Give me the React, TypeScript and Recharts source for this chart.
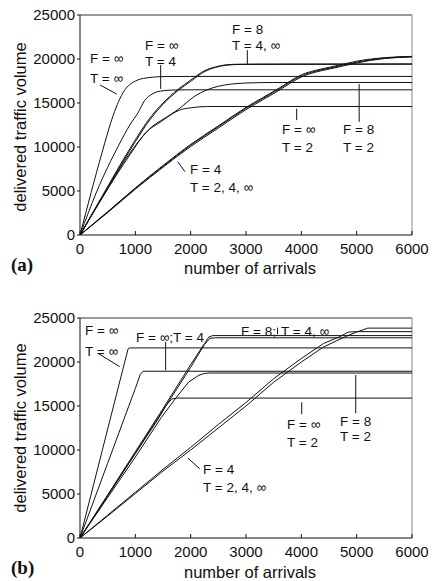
import React from 'react';
import { LineChart, Line, XAxis, YAxis, ReferenceLine } from 'recharts';

type Pt = [number, number];

// shared axes
const xTicks = [0, 1000, 2000, 3000, 4000, 5000, 6000];
const yTicks = [0, 5000, 10000, 15000, 20000, 25000];

// ---- panel (a) ----
const aInfInf: Pt[] = [[0, 0], [200, 4800], [400, 9400], [600, 13600], [700, 15200], [800, 16400], [900, 17100], [1000, 17500], [1200, 17850], [1500, 18000], [2000, 18020], [6000, 18020]];
const aInf4: Pt[] = [[0, 0], [300, 4900], [700, 10200], [900, 12500], [1050, 13900], [1170, 15300], [1300, 16000], [1450, 16350], [1700, 16480], [2000, 16500], [6000, 16500]];
const a8_4: Pt[] = [[0, 0], [400, 4400], [900, 9800], [1300, 13600], [1500, 15000], [1780, 16600], [2000, 17600], [2260, 18700], [2450, 19100], [2620, 19320], [2800, 19400], [3200, 19430], [6000, 19450]];
const a8_inf: Pt[] = [[0, 0], [400, 4300], [900, 9600], [1300, 13400], [1500, 14850], [1780, 16450], [2000, 17450], [2260, 18600], [2450, 19050], [2650, 19300], [2900, 19380], [6000, 19400]];
const a8_2: Pt[] = [[0, 0], [400, 4250], [900, 9300], [1300, 12300], [1540, 13300], [1780, 14300], [2080, 15800], [2500, 16900], [3000, 17270], [3500, 17330], [6000, 17330]];
const aInf2: Pt[] = [[0, 0], [400, 4200], [900, 9100], [1200, 11700], [1470, 12900], [1650, 13700], [1800, 14200], [2000, 14450], [2300, 14600], [6000, 14600]];
const a4_2: Pt[] = [[0, 0], [500, 2600], [1000, 5300], [1500, 7800], [2000, 10200], [2500, 12300], [3000, 14400], [3300, 15500], [3600, 16600], [3800, 17400], [4000, 18100], [4250, 18600], [4500, 18950], [4750, 19300], [5000, 19650], [5500, 20100], [6000, 20270]];
const a4_4: Pt[] = [[0, 0], [500, 2550], [1000, 5200], [1500, 7700], [2000, 10050], [2500, 12150], [3000, 14250], [3300, 15350], [3600, 16450], [3800, 17250], [4000, 17950], [4250, 18500], [4500, 18850], [4750, 19200], [5000, 19550], [5500, 20050], [6000, 20230]];
const a4_inf: Pt[] = [[0, 0], [500, 2650], [1000, 5350], [1500, 7900], [2000, 10300], [2500, 12400], [3000, 14500], [3300, 15600], [3600, 16700], [3800, 17500], [4000, 18200], [4250, 18700], [4500, 19050], [4750, 19400], [5000, 19750], [5500, 20150], [6000, 20300]];

const aPointers: [Pt, Pt][] = [
  [[361, 17050], [663, 16020]],
  [[1458, 19300], [1458, 16600]],
  [[3024, 21000], [3024, 19450]],
  [[3916, 14350], [3916, 13050]],
  [[5045, 17150], [5045, 12850]],
  [[1766, 8330], [1898, 7190]],
];

// ---- panel (b) ----
const bInfInf: Pt[] = [[0, 0], [400, 9900], [800, 19800], [870, 21500], [900, 21600], [6000, 21600]];
const bInf4: Pt[] = [[0, 0], [500, 8500], [1000, 17000], [1090, 18600], [1140, 18950], [6000, 18950]];
const b8_4: Pt[] = [[0, 0], [500, 4900], [1000, 9800], [1500, 14700], [2000, 19700], [2250, 22100], [2330, 22850], [2400, 23000], [6000, 23000]];
const b8_inf: Pt[] = [[0, 0], [500, 4800], [1000, 9650], [1500, 14500], [2000, 19400], [2250, 22000], [2350, 22700], [2450, 22750], [6000, 22750]];
const b8_2: Pt[] = [[0, 0], [500, 4600], [1000, 9200], [1470, 13700], [1720, 15800], [1960, 17700], [2150, 18500], [2250, 18700], [2350, 18750], [6000, 18750]];
const bInf2: Pt[] = [[0, 0], [500, 4800], [1000, 9600], [1400, 13400], [1560, 15100], [1660, 15800], [1750, 15900], [6000, 15900]];
const b4_a: Pt[] = [[0, 0], [500, 2600], [1000, 5200], [1500, 7800], [2000, 10300], [2500, 12900], [3000, 15400], [3500, 18100], [4000, 20400], [4400, 22100], [4700, 22900], [4850, 23400], [5000, 23450], [6000, 23450]];
const b4_b: Pt[] = [[0, 0], [500, 2500], [1000, 5050], [1500, 7600], [2000, 10000], [2500, 12500], [3000, 15000], [3500, 17700], [4000, 20000], [4400, 21700], [4800, 22900], [5000, 23400], [5200, 23850], [6000, 23850]];

const bPointers: [Pt, Pt][] = [
  [[325, 20990], [717, 19470]],
  [[1548, 22300], [1548, 19050]],
  [[3570, 23900], [3570, 23150]],
  [[4007, 15420], [4007, 14060]],
  [[4983, 18520], [4983, 14170]],
  [[1952, 9060], [2163, 7875]],
];

// annotation texts: [left x, centre y, text]
const aNotes: [number, number, string][] = [
  [90, 58, 'F = ∞'], [90, 78, 'T = ∞'],
  [145, 44.5, 'F = ∞'], [145, 61, 'T = 4'],
  [232, 28.5, 'F = 8'], [232, 45, 'T = 4, ∞'],
  [282, 128.5, 'F = ∞'], [282, 147, 'T = 2'],
  [343, 128.5, 'F = 8'], [343, 147, 'T = 2'],
  [190, 168.5, 'F = 4'], [190, 187, 'T = 2, 4, ∞'],
];
const bNotes: [number, number, string][] = [
  [85, 330, 'F = ∞'], [85, 351, 'T = ∞'],
  [136, 337, 'F = ∞;T = 4'],
  [241, 331, 'F = 8;'], [281, 331, 'T = 4, ∞'],
  [287, 423.5, 'F = ∞'], [287, 441.5, 'T = 2'],
  [340, 420.5, 'F = 8'], [340, 436, 'T = 2'],
  [203, 469, 'F = 4'], [203, 487, 'T = 2, 4, ∞'],
];

const SANS = '"Liberation Sans", Arial, Helvetica, sans-serif';
const INK = '#111';

const toData = (pts: Pt[]) => pts.map(([x, y]) => ({ x, y }));

function Panel({ series, pointers, height, curve }: { series: Pt[][]; pointers: [Pt, Pt][]; height: number; curve: 'monotone' | 'linear' }) {
  return (
    <LineChart width={436} height={height} margin={{ top: 15, right: 24, bottom: 0, left: 0 }}>
      <XAxis
        type="number"
        dataKey="x"
        domain={[0, 6000]}
        ticks={xTicks}
        interval={0}
        height={height - 235}
        tickSize={-4}
        tickMargin={12}
        axisLine={{ stroke: INK }}
        tickLine={{ stroke: INK }}
        tick={{ fill: INK, fontSize: 15, fontFamily: SANS }}
        allowDataOverflow
      />
      <YAxis
        type="number"
        domain={[0, 25000]}
        ticks={yTicks}
        interval={0}
        width={80}
        tickSize={3}
        tickMargin={2}
        axisLine={{ stroke: INK }}
        tickLine={{ stroke: INK }}
        tick={{ fill: INK, fontSize: 15, fontFamily: SANS }}
        allowDataOverflow
      />
      <ReferenceLine y={25000} stroke="#333" />
      <ReferenceLine x={6000} stroke="#888" />
      {series.map((s, i) => (
        <Line key={i} data={toData(s)} dataKey="y" type={curve} stroke={INK} strokeWidth={1} dot={false} isAnimationActive={false} />
      ))}
      {pointers.map((p, i) => (
        <ReferenceLine key={'p' + i} segment={[{ x: p[0][0], y: p[0][1] }, { x: p[1][0], y: p[1][1] }]} stroke={INK} />
      ))}
    </LineChart>
  );
}

export default function App() {
  const notes = [...aNotes, ...bNotes];
  return (
    <div style={{ position: 'absolute', left: 0, top: 0, width: 436, height: 581, background: '#fff', overflow: 'hidden' }}>
      <div style={{ position: 'absolute', left: 0, top: 0 }}>
        <Panel height={290} curve="monotone" series={[aInfInf, aInf4, a8_4, a8_inf, a8_2, aInf2, a4_2, a4_4, a4_inf]} pointers={aPointers} />
      </div>
      <div style={{ position: 'absolute', left: 0, top: 303 }}>
        <Panel height={278} curve="linear" series={[bInfInf, bInf4, b8_4, b8_inf, b8_2, bInf2, b4_a, b4_b]} pointers={bPointers} />
      </div>
      <svg width={436} height={581} style={{ position: 'absolute', left: 0, top: 0, pointerEvents: 'none' }}>
        <g fontFamily={SANS} fontSize={13.5} fill={INK}>
          {notes.map(([x, y, t], i) => (
            <text key={i} x={x} y={y + 5}>{t}</text>
          ))}
        </g>
        <g fontFamily={SANS} fontSize={16.5} fill={INK} textAnchor="middle">
          <text transform="translate(26,127) rotate(-90)">delivered traffic volume</text>
          <text transform="translate(26,428) rotate(-90)">delivered traffic volume</text>
          <text x={250} y={274}>number of arrivals</text>
          <text x={250} y={578}>number of arrivals</text>
        </g>
        <g fontFamily='"Liberation Serif", "Times New Roman", serif' fontWeight="bold" fontSize={19} fill={INK}>
          <text x={11} y={271}>(a)</text>
          <text x={11} y={574}>(b)</text>
        </g>
      </svg>
    </div>
  );
}
